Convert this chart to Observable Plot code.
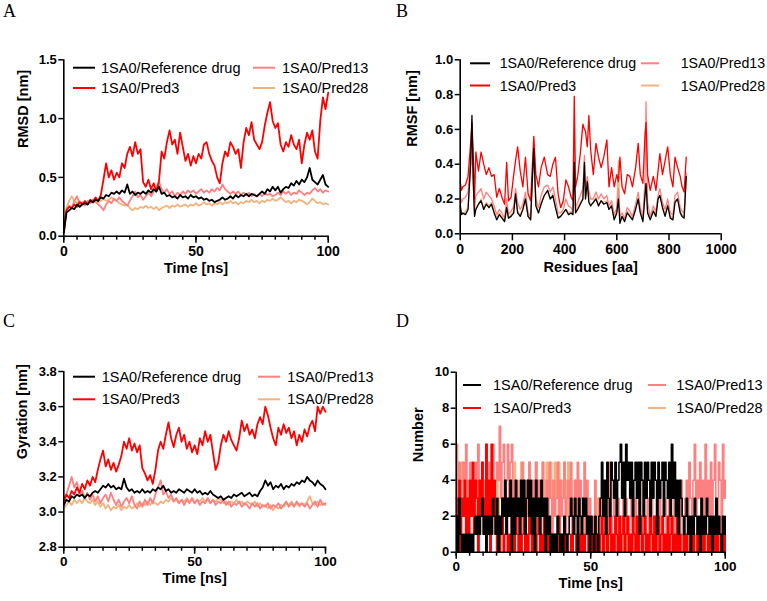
<!DOCTYPE html>
<html><head><meta charset="utf-8">
<script src="https://cdn.jsdelivr.net/npm/d3@7"></script>
<script src="https://cdn.jsdelivr.net/npm/@observablehq/plot@0.6"></script>
<style>
html,body{margin:0;padding:0;background:#fff;}
#page{position:relative;width:767px;height:601px;overflow:hidden;background:#fff;}
</style></head>
<body><div id="page"></div>
<script>
// ---------- series ----------
const seriesNames = ["1SA0/Reference drug", "1SA0/Pred3", "1SA0/Pred13", "1SA0/Pred28"];
const seriesColors = ["#000000", "#ff0000", "#ff8080", "#f4b27c"];
const drawOrder = [3, 2, 1, 0];

// ---------- ticks ----------
const xTicksTime = [0, 50, 100];
const xMinorTime = [0,5,10,15,20,25,30,35,40,45,50,55,60,65,70,75,80,85,90,95,100];
const yTicksRmsd = [0, 0.5, 1.0, 1.5];
const xTicksRes = [0, 200, 400, 600, 800, 1000];
const yTicksRmsf = [0, 0.2, 0.4, 0.6, 0.8, 1.0];
const yTicksGyr = [2.8, 3.0, 3.2, 3.4, 3.6, 3.8];
const yTicksHb = [0, 2, 4, 6, 8, 10];

// ---------- A: RMSD (1 ns samples, 0..100) ----------
const rmsdRef = [0.03,0.2,0.22,0.24,0.23,0.27,0.25,0.27,0.28,0.27,
0.3,0.29,0.31,0.3,0.33,0.32,0.35,0.34,0.37,0.36,
0.38,0.36,0.39,0.37,0.44,0.36,0.38,0.35,0.37,0.36,
0.38,0.36,0.39,0.37,0.4,0.38,0.42,0.36,0.37,0.34,
0.35,0.33,0.34,0.32,0.35,0.33,0.34,0.32,0.35,0.33,
0.34,0.32,0.33,0.31,0.32,0.3,0.31,0.29,0.3,0.31,
0.33,0.31,0.32,0.34,0.32,0.35,0.33,0.35,0.34,0.36,
0.34,0.36,0.35,0.34,0.36,0.38,0.36,0.4,0.38,0.42,
0.39,0.42,0.37,0.4,0.42,0.41,0.45,0.43,0.47,0.44,
0.48,0.46,0.5,0.58,0.48,0.46,0.44,0.48,0.52,0.44,
0.42];
const rmsdPred3 = [0.03,0.22,0.25,0.24,0.27,0.25,0.29,0.27,0.3,0.27,
0.31,0.29,0.33,0.3,0.35,0.48,0.62,0.5,0.56,0.48,
0.54,0.5,0.62,0.58,0.7,0.76,0.68,0.8,0.7,0.74,
0.46,0.42,0.48,0.4,0.45,0.38,0.47,0.72,0.66,0.8,
0.9,0.78,0.82,0.7,0.88,0.76,0.64,0.7,0.6,0.68,
0.62,0.7,0.66,0.78,0.8,0.7,0.64,0.6,0.5,0.45,
0.62,0.72,0.68,0.8,0.76,0.7,0.74,0.58,0.8,0.92,
0.86,0.97,0.82,0.78,0.74,0.8,0.94,1.05,1.14,0.98,
0.92,0.96,0.78,0.72,0.8,0.76,0.86,0.78,0.74,0.82,
0.62,0.78,0.88,0.82,0.9,0.72,0.66,0.98,1.18,1.08,
1.22];
const rmsdPred13 = [0.03,0.22,0.26,0.24,0.3,0.34,0.27,0.29,0.26,0.3,
0.28,0.31,0.29,0.27,0.25,0.22,0.27,0.3,0.28,0.32,
0.3,0.33,0.3,0.28,0.26,0.3,0.34,0.38,0.33,0.35,
0.31,0.34,0.37,0.34,0.38,0.41,0.46,0.4,0.37,0.4,
0.36,0.38,0.34,0.37,0.35,0.38,0.36,0.39,0.37,0.39,
0.36,0.38,0.4,0.37,0.39,0.37,0.4,0.38,0.41,0.39,
0.44,0.4,0.38,0.36,0.38,0.36,0.38,0.35,0.37,0.35,
0.37,0.34,0.36,0.34,0.36,0.34,0.37,0.35,0.36,0.34,
0.35,0.37,0.35,0.38,0.36,0.38,0.35,0.37,0.36,0.39,
0.37,0.35,0.37,0.36,0.39,0.41,0.38,0.4,0.37,0.39,
0.38];
const rmsdPred28 = [0.03,0.24,0.3,0.34,0.3,0.28,0.3,0.27,0.29,0.27,
0.3,0.28,0.31,0.29,0.3,0.32,0.3,0.31,0.33,0.31,
0.3,0.28,0.27,0.26,0.27,0.24,0.22,0.24,0.23,0.25,
0.24,0.26,0.24,0.25,0.23,0.25,0.22,0.24,0.25,0.26,
0.24,0.26,0.25,0.27,0.25,0.26,0.27,0.25,0.27,0.26,
0.28,0.26,0.27,0.29,0.27,0.28,0.26,0.28,0.27,0.29,
0.27,0.29,0.28,0.3,0.28,0.29,0.27,0.29,0.28,0.3,
0.29,0.31,0.29,0.3,0.28,0.3,0.29,0.31,0.3,0.32,
0.3,0.31,0.33,0.31,0.29,0.3,0.28,0.3,0.29,0.31,
0.3,0.29,0.27,0.29,0.32,0.3,0.28,0.29,0.27,0.28,
0.27];

// ---------- B: RMSF per residue ----------
const residues = [0,5,10,20,30,40,45,50,55,60,70,80,90,100,110,120,130,140,150,160,
170,178,185,195,205,212,220,230,240,250,260,270,276,282,290,300,310,322,335,345,
355,365,375,385,395,405,415,425,432,437,442,450,460,470,476,480,487,493,500,510,
520,530,540,550,562,570,580,590,600,606,612,620,630,640,650,660,672,682,690,700,
708,712,718,728,740,750,758,765,775,785,795,805,815,823,833,843,850,858,866];
const rmsfRef = [0.16,0.11,0.12,0.11,0.14,0.4,0.68,0.3,0.1,0.14,
0.17,0.19,0.14,0.17,0.15,0.17,0.12,0.08,0.11,0.09,
0.07,0.15,0.09,0.1,0.12,0.23,0.12,0.1,0.14,0.2,
0.1,0.08,0.3,0.49,0.16,0.12,0.17,0.22,0.25,0.2,
0.22,0.15,0.09,0.1,0.12,0.14,0.11,0.12,0.11,0.41,
0.12,0.14,0.17,0.2,0.41,0.2,0.3,0.18,0.16,0.18,
0.2,0.16,0.19,0.17,0.18,0.14,0.16,0.08,0.12,0.2,
0.06,0.1,0.07,0.12,0.1,0.08,0.14,0.2,0.12,0.07,
0.22,0.29,0.12,0.08,0.13,0.1,0.2,0.22,0.15,0.1,
0.16,0.09,0.08,0.18,0.2,0.12,0.1,0.09,0.33];
const rmsfPred3 = [0.30,0.25,0.27,0.28,0.33,0.52,0.64,0.46,0.2,0.47,
0.36,0.47,0.4,0.34,0.38,0.33,0.34,0.21,0.26,0.21,
0.17,0.41,0.19,0.21,0.34,0.42,0.5,0.36,0.27,0.44,
0.23,0.19,0.38,0.56,0.34,0.27,0.38,0.44,0.34,0.33,
0.4,0.44,0.23,0.15,0.19,0.31,0.27,0.21,0.19,0.79,
0.27,0.33,0.46,0.63,0.6,0.59,0.5,0.68,0.48,0.34,
0.52,0.44,0.38,0.44,0.54,0.27,0.38,0.27,0.34,0.3,
0.44,0.27,0.23,0.34,0.33,0.27,0.38,0.52,0.34,0.29,
0.57,0.64,0.34,0.25,0.33,0.25,0.36,0.46,0.34,0.42,
0.5,0.34,0.27,0.44,0.38,0.33,0.27,0.24,0.44];
const rmsfPred13 = [0.22,0.18,0.2,0.21,0.24,0.45,0.6,0.35,0.14,0.22,
0.24,0.26,0.2,0.24,0.22,0.2,0.16,0.11,0.14,0.12,
0.09,0.2,0.11,0.13,0.16,0.26,0.18,0.14,0.17,0.24,
0.12,0.1,0.32,0.5,0.2,0.15,0.22,0.27,0.28,0.24,
0.27,0.2,0.12,0.12,0.14,0.2,0.16,0.15,0.13,0.5,
0.15,0.18,0.22,0.26,0.45,0.25,0.33,0.25,0.2,0.2,
0.24,0.2,0.23,0.2,0.22,0.16,0.19,0.11,0.15,0.26,
0.1,0.12,0.09,0.15,0.13,0.1,0.17,0.24,0.15,0.1,
0.3,0.76,0.18,0.1,0.16,0.13,0.22,0.26,0.18,0.14,
0.2,0.12,0.11,0.22,0.24,0.15,0.13,0.12,0.35];
const rmsfPred28 = [0.18,0.12,0.11,0.13,0.15,0.38,0.62,0.3,0.11,0.15,
0.17,0.2,0.15,0.18,0.16,0.18,0.13,0.09,0.12,0.1,
0.07,0.16,0.09,0.11,0.13,0.22,0.13,0.11,0.14,0.2,
0.1,0.09,0.3,0.47,0.17,0.12,0.18,0.22,0.24,0.2,
0.23,0.16,0.1,0.1,0.12,0.14,0.12,0.13,0.12,0.4,
0.13,0.15,0.18,0.2,0.4,0.21,0.28,0.19,0.17,0.18,
0.21,0.17,0.19,0.18,0.19,0.14,0.17,0.09,0.13,0.42,
0.08,0.1,0.08,0.13,0.11,0.09,0.15,0.2,0.13,0.08,
0.22,0.28,0.13,0.09,0.14,0.11,0.21,0.22,0.16,0.11,
0.17,0.1,0.09,0.19,0.2,0.13,0.11,0.1,0.32];

// ---------- C: radius of gyration (1 ns samples) ----------
const gyrRef = [3.04,3.07,3.06,3.09,3.08,3.1,3.09,3.1,3.08,3.1,
3.09,3.11,3.12,3.11,3.13,3.15,3.14,3.16,3.14,3.15,
3.13,3.14,3.13,3.19,3.14,3.12,3.13,3.11,3.12,3.11,
3.13,3.11,3.12,3.11,3.13,3.12,3.14,3.13,3.15,3.12,
3.13,3.11,3.12,3.11,3.13,3.12,3.11,3.13,3.12,3.11,
3.13,3.11,3.12,3.1,3.11,3.1,3.12,3.1,3.09,3.08,
3.09,3.07,3.08,3.09,3.08,3.1,3.09,3.1,3.11,3.09,
3.1,3.11,3.09,3.1,3.09,3.12,3.14,3.18,3.15,3.17,
3.13,3.15,3.14,3.16,3.13,3.15,3.14,3.16,3.15,3.17,
3.16,3.18,3.17,3.2,3.18,3.17,3.15,3.18,3.16,3.15,
3.13];
const gyrPred3 = [3.07,3.1,3.08,3.12,3.1,3.14,3.11,3.16,3.13,3.18,
3.15,3.2,3.17,3.24,3.3,3.35,3.26,3.3,3.24,3.28,
3.23,3.27,3.32,3.4,3.36,3.42,3.35,3.39,3.34,3.38,
3.25,3.22,3.18,3.21,3.16,3.24,3.35,3.4,3.36,3.44,
3.51,3.42,3.37,3.44,3.48,3.4,3.44,3.36,3.4,3.34,
3.38,3.33,3.42,3.38,3.46,3.4,3.44,3.34,3.24,3.28,
3.38,3.44,3.4,3.46,3.41,3.38,3.35,3.42,3.52,3.46,
3.5,3.44,3.47,3.42,3.5,3.54,3.5,3.6,3.55,3.48,
3.42,3.38,3.48,3.44,3.5,3.45,3.48,3.42,3.46,3.38,
3.44,3.4,3.47,3.43,3.49,3.52,3.46,3.6,3.56,3.6,
3.57];
const gyrPred13 = [3.04,3.1,3.15,3.2,3.14,3.17,3.1,3.12,3.08,3.11,
3.07,3.1,3.06,3.09,3.05,3.08,3.1,3.06,3.11,3.07,
3.04,3.07,3.03,3.06,3.08,3.05,3.09,3.04,3.02,3.06,
3.03,3.07,3.04,3.08,3.05,3.1,3.14,3.18,3.1,3.12,
3.08,3.1,3.06,3.08,3.05,3.07,3.04,3.07,3.05,3.08,
3.05,3.07,3.04,3.06,3.05,3.08,3.05,3.07,3.04,3.06,
3.05,3.07,3.04,3.06,3.03,3.05,3.04,3.06,3.03,3.05,
3.04,3.02,3.05,3.03,3.05,3.02,3.04,3.03,3.05,3.02,
3.04,3.03,3.05,3.02,3.04,3.06,3.03,3.05,3.03,3.06,
3.04,3.05,3.03,3.05,3.02,3.04,3.06,3.03,3.07,3.04,
3.05];
const gyrPred28 = [3.02,3.04,3.06,3.04,3.07,3.05,3.07,3.05,3.08,3.06,
3.05,3.07,3.04,3.06,3.03,3.05,3.02,3.04,3.01,3.03,
3.02,3.04,3.01,3.03,3.02,3.04,3.02,3.03,3.05,3.03,
3.05,3.04,3.06,3.04,3.06,3.05,3.04,3.06,3.05,3.07,
3.06,3.08,3.06,3.07,3.05,3.07,3.06,3.08,3.06,3.07,
3.05,3.07,3.06,3.08,3.06,3.07,3.05,3.07,3.06,3.08,
3.07,3.05,3.06,3.04,3.06,3.05,3.07,3.05,3.06,3.04,
3.06,3.05,3.04,3.06,3.03,3.05,3.03,3.04,3.02,3.04,
3.01,3.03,3.02,3.04,3.03,3.05,3.04,3.06,3.04,3.05,
3.03,3.05,3.04,3.06,3.09,3.05,3.04,3.06,3.04,3.05,
3.04];

// ---------- D: hydrogen bonds (0.5 ns samples) ----------
const hbRef = [2,0,3,1,0, 1,0,1,0,1,0,1,0,1,
2,1,2,1,2,3,1,2,0,2,1,2,1,3,2, 1,3,0,2,1,3,
2,4,1,3,2,4,0,3,1,4,2,3,1,4,
2,4,1,3,4,2,4,1,3,0,4,2,3,1,4,2,3,0,3,1,2,0,1,
0,1,0,2,1,0,1,0,2,1,0,1,2,
3,2,1,3,2,0,3,2,1,3,2,3,1,2,0,2, 1,0,2,1,0,2,
3,5,2,4,1,5,3,2,5,4,3,5,2,4,
5,6,3,5,2,6,4,5,3,5,2,4,5,3,5,1,5,4,2,5,
3,5,4,2,5,3,5,4,1,5,3,4,5,2,5,4,3,5,2,6,
3,5,2,4,1,4,3,2,
1,2,3,1,2,0,2,1,3,2,1,2,0,3,1,2,1,3,2,1,2,0,2,1,3,1,2,1,0,2,1,2];
const hbPred3 = [3,1,4,0,3,2,4,1,3,0,4,2,5,1,4,3,0,4,2,5,3,1,6,2,4,0,6,3,4,
1,0,2,0,1,3,0,1,2,0,1,0,2,1,0,3,1,0,2,0,1,2,0,1,0,2,1,0,1,3,0,1,2,0,1,0,2,1,0,1,0,1,
0,1,0,1,0,2,0,1,0,1,0,1,0,0,1,0,2,1,0,1,0,1,0,1,0,1,2,0,1,0,1,0,1,0,1,0,1,2,0,1,
2,0,1,2,0,1,0,2,1,0,2,0,1,2,0,1,2,0,1,0,2,1,0,2,0,1,2,0,1,2,0,1,0,2,1,0,2,0,1,2,0,1,2,0,1,0,2,0,1,2,0,1,0,2,
0,1,0,0,1,0,1,0,0,1,0,1,0,0,1,0,0,1,0,1,0,0,1,0,1,0,0,1,0,1,0,0,1,0,1,0];
const hbPred13 = [6,3,5,2,4,5,3,6,2,4,5,3,4,2,5,3,6,4,2,5,4,3,6,2,5,4,3,6,2,4,5,
4,7,3,5,6,2,4,6,3,5,6,2,4,3,
3,1,4,2,5,1,3,4,2,5,1,3,4,2,5,1,4,3,2,5,3,1,4,2,5,3,1,4,2,3,5,1,4,2,3,5,1,3,4,2,5,1,3,4,2,5,1,4,3,2,5,1,4,2,3,1,
0,2,4,0,1,3,0,4,1,2,0,3,1,5,0,2,4,0,1,3,0,2,1,4,0,3,1,0,2,4,0,1,3,0,2,5,0,1,4,0,2,3,0,1,4,0,2,1,3,0,4,1,0,2,3,0,1,4,0,2,1,5,0,3,1,0,4,2,0,3,
4,2,5,3,1,4,6,2,4,3,5,1,4,2,6,3,4,1,5,2,4,6,3,2,5,4,1,6,3,4];
const hbPred28 = [5,3,4,2,5,3,4,
2,3,1,4,2,3,1,2,4,3,1,2,3,4,2,1,3,2,4,1,3,2,1,4,3,2,1,3,2,4,1,3,2,4,
4,2,5,3,4,2,3,5,2,4,3,2,4,5,2,3,4,2,5,3,4,2,3,5,4,2,5,3,4,5,2,4,5,3,4,5,2,4,3,5,4,2,5,3,4,2,3,4,2,3,4,2,
1,3,0,2,1,3,0,2,1,0,2,1,3,0,1,2,0,1,
1,0,1,0,1,0,1,0,2,0,1,0,1,0,1,0,1,0,1,0,1,0,2,0,1,0,1,0,1,0,
1,0,1,0,1,0,2,0,1,0,1,0,1,0,1,0,1,0,1,0,2,0,1,0,1,0,1,0,1,0,
1,0,1,0,2,0,1,0,1,0,1,0,1,0,1,0,1,0,2,0,1,0,1,0,1,0,1,0,1,0];

const stepAC = 1;    // ns per sample in A and C
const stepD = 0.5;   // ns per sample in D

// ---------- drawing ----------
const page = document.getElementById("page");
const FONT = "'Liberation Sans', Arial, Helvetica, sans-serif";

function panel(cfg) {
  const marks = [];
  for (const k of drawOrder) {
    const vals = cfg.series[k];
    marks.push(Plot.line(vals, {
      x: (d, i) => cfg.xOf(i), y: d => d,
      stroke: seriesColors[k], strokeWidth: cfg.lineWidth, curve: cfg.curve
    }));
  }
  marks.push(Plot.ruleX([cfg.xDomain[0]], {stroke: "#000", strokeWidth: 1.6}));
  marks.push(Plot.ruleY([cfg.yDomain[0]], {stroke: "#000", strokeWidth: 1.6}));
  marks.push(Plot.axisY({ticks: cfg.yTicks, tickSize: 5, tickPadding: 2, tickFormat: cfg.yFormat,
    fontSize: 13, fontWeight: "bold", strokeWidth: 1.5, label: null}));
  marks.push(Plot.axisX({ticks: cfg.xTicks, tickSize: 7, tickPadding: cfg.xPad, fontSize: cfg.xFs,
    tickFormat: d3.format("d"), fontWeight: "bold", strokeWidth: 1.5, label: null}));
  if (cfg.xMinor) marks.push(Plot.axisX({ticks: cfg.xMinor, tickSize: 4, tickFormat: () => "",
    strokeWidth: 1.5, label: null}));
  marks.push(Plot.text([cfg.yTitle], {text: d => d, frameAnchor: "left", dx: cfg.yTitleDx, rotate: -90,
    fontSize: 14.5, fontWeight: "bold"}));
  marks.push(Plot.text([cfg.xTitle], {text: d => d, frameAnchor: "bottom", dy: cfg.xTitleDy,
    fontSize: 14.5, fontWeight: "bold"}));
  const svg = Plot.plot({
    width: cfg.width, height: cfg.height,
    marginLeft: cfg.m[0], marginRight: cfg.m[1], marginTop: cfg.m[2], marginBottom: cfg.m[3],
    x: {domain: cfg.xDomain}, y: {domain: cfg.yDomain},
    style: {fontFamily: FONT, fontWeight: "bold", color: "#000", background: "transparent", overflow: "visible"},
    marks
  });
  svg.style.position = "absolute";
  svg.style.left = cfg.left + "px";
  svg.style.top = cfg.top + "px";
  page.appendChild(svg);
}

panel({left: 0, top: 0, width: 383, height: 300, m: [63.3, 55.3, 59.3, 64.3],
  xDomain: [0, 100], yDomain: [0, 1.5], xTicks: xTicksTime, xMinor: xMinorTime, xFs: 14, xPad: 3,
  yTicks: yTicksRmsd, yFormat: d3.format(".1f"), curve: "linear",
  series: [rmsdRef, rmsdPred3, rmsdPred13, rmsdPred28], xOf: i => i * stepAC, lineWidth: 1.8,
  yTitle: "RMSD [nm]", xTitle: "Time [ns]", yTitleDx: -40, xTitleDy: 37});

panel({left: 383, top: 0, width: 384, height: 300, m: [76.7, 46.3, 59.3, 66.7],
  xDomain: [0, 1000], yDomain: [0, 1.0], xTicks: xTicksRes, xMinor: null, xFs: 14, xPad: 3,
  yTicks: yTicksRmsf, yFormat: d3.format(".1f"), curve: "linear",
  series: [rmsfRef, rmsfPred3, rmsfPred13, rmsfPred28], xOf: i => residues[i], lineWidth: 1.3,
  yTitle: "RMSF [nm]", xTitle: "Residues [aa]", yTitleDx: -48, xTitleDy: 38});

panel({left: 0, top: 300, width: 383, height: 301, m: [63.3, 58, 71, 54.3],
  xDomain: [0, 100], yDomain: [2.8, 3.8], xTicks: xTicksTime, xMinor: xMinorTime, xFs: 13.5, xPad: 2.5,
  yTicks: yTicksGyr, yFormat: d3.format(".1f"), curve: "linear",
  series: [gyrRef, gyrPred3, gyrPred13, gyrPred28], xOf: i => i * stepAC, lineWidth: 1.8,
  yTitle: "Gyration [nm]", xTitle: "Time [ns]", yTitleDx: -41.6, xTitleDy: 36});

panel({left: 383, top: 300, width: 384, height: 301, m: [72.7, 42.3, 71.7, 49.3],
  xDomain: [0, 100], yDomain: [0, 10], xTicks: xTicksTime, xMinor: xMinorTime, xFs: 13.5, xPad: 2,
  yTicks: yTicksHb, yFormat: d3.format("d"), curve: "step-after",
  series: [hbRef, hbPred3, hbPred13, hbPred28], xOf: i => i * stepD, lineWidth: 1.6,
  yTitle: "Number", xTitle: "Time [ns]", yTitleDx: -37.7, xTitleDy: 36});

// ---------- overlay: panel letters and legends ----------
const overlay = d3.create("svg").attr("width", 767).attr("height", 601)
  .style("position", "absolute").style("left", "0px").style("top", "0px");
const panelLetters = ["A", "B", "C", "D"];
const letterPos = [[3, 17], [396, 17], [3, 327], [396, 327]];
panelLetters.forEach((L, i) => overlay.append("text").attr("x", letterPos[i][0]).attr("y", letterPos[i][1])
  .attr("font-family", "'Liberation Serif', 'Times New Roman', serif").attr("font-size", 18).text(L));

const legendLayouts = [
  {c1: [73, 95, 101], c2: [253, 275, 282], y1: 72.7, y2: 93, fs: 14.5},
  {c1: [470, 490, 499.7], c2: [641, 659, 680.7], y1: 68.3, y2: 90.5, fs: 14.2},
  {c1: [73, 95, 101.7], c2: [258, 280, 287.3], y1: 381.7, y2: 404.3, fs: 14.5},
  {c1: [463, 481, 493], c2: [648, 666, 676.3], y1: 390, y2: 413, fs: 14.5}
];
const legendSlots = [["c1", "y1", 0], ["c2", "y1", 2], ["c1", "y2", 1], ["c2", "y2", 3]];
for (const lay of legendLayouts) {
  for (const [c, r, k] of legendSlots) {
    const col = lay[c], y = lay[r];
    overlay.append("line").attr("x1", col[0]).attr("x2", col[1]).attr("y1", y - 5).attr("y2", y - 5)
      .attr("stroke", seriesColors[k]).attr("stroke-width", 2);
    overlay.append("text").attr("x", col[2]).attr("y", y).attr("font-family", FONT)
      .attr("font-size", lay.fs).attr("fill", "#000").text(seriesNames[k]);
  }
}
page.appendChild(overlay.node());
</script>
</body></html>
